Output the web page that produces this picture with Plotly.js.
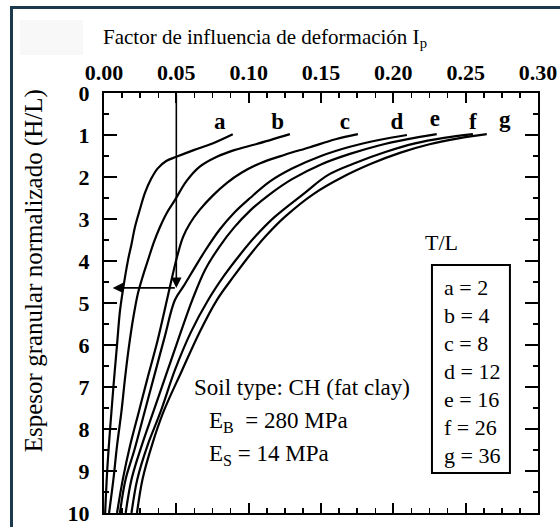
<!DOCTYPE html>
<html><head><meta charset="utf-8">
<script src="https://cdn.plot.ly/plotly-3.0.1.min.js"></script>
<style>
html,body{margin:0;padding:0;background:#fff;overflow:hidden}
#chart{position:absolute;left:0;top:0;width:560px;height:527px}
#frame{position:absolute;left:10px;top:6px;width:700px;height:700px;border-left:3px solid #1c3a4e;border-top:3px solid #1c3a4e;pointer-events:none}
</style></head><body>
<div id="chart"></div><div id="frame"></div>
<script>
// ---- data ----
const curveNames = ['a','b','c','d','e','f','g'];
const ratioTL = [2,4,8,12,16,26,36];

const aIp = [0.089,0.075,0.062,0.050,0.043,0.037,0.0325,0.0283,0.025,0.0214,0.019,0.0166,0.0131,0.011,0.009,0.0065,0.0042,0.0022,0.0008];
const aHL = [0.98,1.2,1.36,1.52,1.62,1.8,2.05,2.38,2.75,3.19,3.6,3.98,4.69,5.2,6.0,7.0,8.0,9.0,10];

const bIp = [0.1285,0.105,0.090,0.078,0.066,0.057,0.049,0.0435,0.0387,0.0345,0.0304,0.0265,0.0235,0.020,0.017,0.0145,0.012,0.009,0.0065,0.0035];
const bHL = [0.98,1.22,1.36,1.52,1.76,2.1,2.55,2.85,3.19,3.55,3.98,4.4,4.76,5.4,6.1,6.8,7.6,8.4,9.2,10];

const cIp = [0.1755,0.160,0.1424,0.125,0.108,0.095,0.085,0.075,0.066,0.0595,0.0546,0.0505,0.047,0.0435,0.037,0.030,0.024,0.018,0.013,0.009];
const cHL = [0.98,1.1,1.29,1.47,1.67,1.9,2.14,2.45,2.79,3.1,3.43,3.9,4.4,4.93,5.9,6.8,7.6,8.4,9.2,10];

const dIp = [0.2094,0.19,0.17,0.15,0.13,0.115,0.101,0.09,0.08,0.07,0.062,0.055,0.049,0.042,0.035,0.028,0.021,0.0149,0.011];
const dHL = [1.0,1.12,1.28,1.5,1.8,2.1,2.5,2.85,3.25,3.75,4.2,4.6,4.93,5.8,6.7,7.6,8.5,9.2,10];

const eIp = [0.230,0.21,0.19,0.17,0.15,0.13,0.115,0.101,0.09,0.08,0.07,0.061,0.052,0.043,0.034,0.026,0.019,0.015];
const eHL = [0.98,1.1,1.25,1.45,1.7,2.05,2.4,2.8,3.2,3.65,4.2,4.93,5.8,6.7,7.6,8.4,9.2,10];

const fIp = [0.255,0.235,0.215,0.195,0.175,0.155,0.138,0.118,0.105,0.094,0.083,0.072,0.060,0.049,0.039,0.030,0.023,0.019];
const fHL = [0.98,1.07,1.2,1.4,1.65,1.95,2.4,2.95,3.4,3.85,4.35,4.93,5.7,6.6,7.6,8.4,9.2,10];

const gIp = [0.2646,0.245,0.225,0.205,0.185,0.165,0.145,0.125,0.112,0.101,0.09,0.078,0.066,0.054,0.041,0.033,0.0266,0.0228];
const gHL = [0.98,1.08,1.22,1.42,1.68,2.0,2.4,2.95,3.4,3.85,4.35,4.93,5.7,6.6,7.6,8.4,9.2,10];

const labelIp = [0.080,0.120,0.1665,0.2025,0.2287,0.255,0.277];
const labelHL = [0.71,0.71,0.71,0.71,0.66,0.71,0.68];

// worked example: read I_p = 0.05 down to H/L
const exampleIp = 0.05;
const exampleHL = 4.64;
const exampleTipIp = 0.006;

const soilLines = ['Soil type: CH (fat clay)', 'E<sub>B</sub>  = 280 MPa', 'E<sub>S</sub> = 14 MPa'];

// ---- build ----
const serif = 'Liberation Serif';
const xs = [aIp,bIp,cIp,dIp,eIp,fIp,gIp];
const ys = [aHL,bHL,cHL,dHL,eHL,fHL,gHL];
const traces = xs.map((x,i)=>({
  type:'scatter', mode:'lines', x:x, y:ys[i], name:curveNames[i],
  line:{color:'#000', width:2.2, shape:'spline', smoothing:1},
  hoverinfo:'skip', showlegend:false
}));
traces.push({
  type:'scatter', mode:'text', x:labelIp, y:labelHL, text:curveNames,
  textfont:{family:serif, size:23, color:'#000', weight:'bold'}, textposition:'middle center',
  hoverinfo:'skip', showlegend:false
});

const annotations = [];
annotations.push({xref:'paper', yref:'paper', x:0.371, y:1.131, xanchor:'center', yanchor:'middle',
  text:'Factor de influencia de deformación I<sub>p</sub>', showarrow:false,
  font:{family:serif, size:21, color:'#000'}});
annotations.push({xref:'paper', yref:'paper', x:-0.1613, y:0.578, xanchor:'center', yanchor:'middle',
  text:'Espesor granular normalizado (H/L)', textangle:-90, showarrow:false,
  font:{family:serif, size:25, color:'#000'}});
annotations.push({x:exampleIp, y:exampleHL, ax:exampleIp, ay:0, axref:'x', ayref:'y', xref:'x', yref:'y',
  text:'', showarrow:true, arrowhead:2, arrowsize:1.3, arrowwidth:1.6, arrowcolor:'#000'});
annotations.push({x:exampleTipIp, y:exampleHL, ax:exampleIp, ay:exampleHL, axref:'x', ayref:'y', xref:'x', yref:'y',
  text:'', showarrow:true, arrowhead:2, arrowsize:1.3, arrowwidth:1.6, arrowcolor:'#000'});
annotations.push({x:0.2336, y:3.55, xref:'x', yref:'y', text:'T/L', showarrow:false,
  font:{family:serif, size:22, color:'#000'}});
curveNames.forEach((n,i)=>{
  annotations.push({x:0.2335, y:4.64 + i*0.665, xref:'x', yref:'y', xanchor:'left', yanchor:'middle',
    text:n+' = '+ratioTL[i], showarrow:false, font:{family:serif, size:22, color:'#000'}});
});
const soilPos = [[0.0608,7.0],[0.0712,7.83],[0.0712,8.62]];
soilLines.forEach((t,i)=>{
  annotations.push({x:soilPos[i][0], y:soilPos[i][1], xref:'x', yref:'y', xanchor:'left', yanchor:'middle',
    text:t, showarrow:false, font:{family:serif, size:23, color:'#000'}});
});

const layout = {
  width:560, height:527,
  margin:{l:104, r:22, t:93, b:14},
  paper_bgcolor:'#fff', plot_bgcolor:'#fff',
  showlegend:false,
  font:{family:serif, color:'#000'},
  xaxis:{
    range:[0,0.30], side:'top', dtick:0.05, tick0:0, tickformat:'.2f',
    ticks:'inside', ticklen:10, tickwidth:2, tickcolor:'#000',
    minor:{dtick:0.0125, ticks:'inside', ticklen:5, tickwidth:1.5, tickcolor:'#000', showgrid:false},
    showline:true, linewidth:2, linecolor:'#000', mirror:'ticks',
    showgrid:false, zeroline:false, automargin:false,
    tickfont:{family:serif, size:22, color:'#000', weight:'bold'}, ticklabelstandoff:2
  },
  yaxis:{
    range:[10,0], dtick:1, tick0:0,
    ticks:'inside', ticklen:13, tickwidth:2, tickcolor:'#000',
    minor:{dtick:0.5, ticks:'inside', ticklen:5, tickwidth:1.5, tickcolor:'#000', showgrid:false},
    showline:true, linewidth:2, linecolor:'#000', mirror:'ticks',
    showgrid:false, zeroline:false, automargin:false,
    tickfont:{family:serif, size:22, color:'#000', weight:'bold'}, ticklabelstandoff:8
  },
  shapes:[
    {type:'rect', xref:'paper', yref:'paper', x0:-0.1935, x1:-0.0484, y0:1.0905, y1:1.1738,
     fillcolor:'#f8f8f8', line:{width:0}, layer:'below'},
    {type:'rect', xref:'x', yref:'y', x0:0.2267, x1:0.2806, y0:4.095, y1:9.05,
     line:{color:'#000', width:2}, fillcolor:'rgba(0,0,0,0)'}
  ],
  annotations:annotations
};

Plotly.newPlot('chart', traces, layout, {displayModeBar:false, staticPlot:true});
</script></body></html>
